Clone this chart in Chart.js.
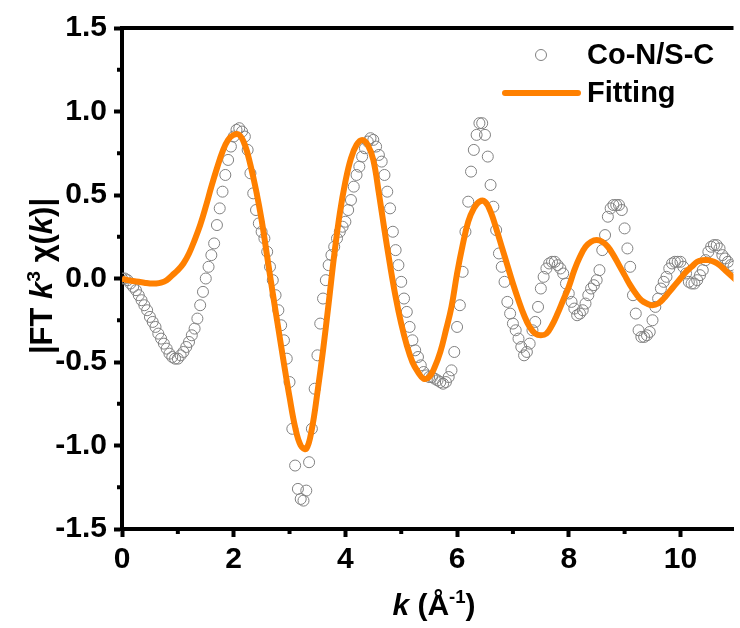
<!DOCTYPE html>
<html>
<head>
<meta charset="utf-8">
<script src="https://cdn.jsdelivr.net/npm/chart.js@4"></script>
<style>
  body { margin: 0; background: #fff; }
  canvas { display: block; }
</style>
</head>
<body>
<canvas id="myChart" width="740" height="628"></canvas>
<script>
// measured k grid (Å^-1) of the experimental points
const dataK = [
  0, 0.05, 0.1, 0.15, 0.2, 0.25, 0.3, 0.35, 0.4, 0.45, 0.5, 0.55, 0.6, 0.65, 0.7, 0.75, 0.8, 0.85, 0.9, 0.95,
  1, 1.05, 1.1, 1.15, 1.2, 1.25, 1.3, 1.35, 1.4, 1.45, 1.5, 1.55, 1.6, 1.65, 1.7, 1.75, 1.8, 1.85, 1.9, 1.95,
  2, 2.05, 2.1, 2.15, 2.2, 2.25, 2.3, 2.35, 2.4, 2.45, 2.5, 2.55, 2.6, 2.65, 2.7, 2.75, 2.8, 2.85, 2.9, 2.95,
  3, 3.05, 3.1, 3.15, 3.2, 3.25, 3.3, 3.35, 3.4, 3.45, 3.5, 3.55, 3.6, 3.65, 3.7, 3.75, 3.8, 3.85, 3.9, 3.95,
  4, 4.05, 4.1, 4.15, 4.2, 4.25, 4.3, 4.35, 4.4, 4.45, 4.5, 4.55, 4.6, 4.65, 4.7, 4.75, 4.8, 4.85, 4.9, 4.95,
  5, 5.05, 5.1, 5.15, 5.2, 5.25, 5.3, 5.35, 5.4, 5.45, 5.5, 5.55, 5.6, 5.65, 5.7, 5.75, 5.8, 5.85, 5.9, 5.95,
  6, 6.05, 6.1, 6.15, 6.2, 6.25, 6.3, 6.35, 6.4, 6.45, 6.5, 6.55, 6.6, 6.65, 6.7, 6.75, 6.8, 6.85, 6.9, 6.95,
  7, 7.05, 7.1, 7.15, 7.2, 7.25, 7.3, 7.35, 7.4, 7.45, 7.5, 7.55, 7.6, 7.65, 7.7, 7.75, 7.8, 7.85, 7.9, 7.95,
  8, 8.05, 8.1, 8.15, 8.2, 8.25, 8.3, 8.35, 8.4, 8.45, 8.5, 8.55, 8.6, 8.65, 8.7, 8.75, 8.8, 8.85, 8.9, 8.95,
  9, 9.05, 9.1, 9.15, 9.2, 9.25, 9.3, 9.35, 9.4, 9.45, 9.5, 9.55, 9.6, 9.65, 9.7, 9.75, 9.8, 9.85, 9.9, 9.95,
  10, 10.05, 10.1, 10.15, 10.2, 10.25, 10.3, 10.35, 10.4, 10.45, 10.5, 10.55, 10.6, 10.65, 10.7, 10.75, 10.8, 10.85, 10.9, 10.95,
  11
];
const dataV = [
  0.00, 0.00, -0.01, -0.03, -0.05, -0.07, -0.10, -0.13, -0.16, -0.19, -0.23, -0.26, -0.29, -0.33, -0.36, -0.39, -0.42, -0.45, -0.47, -0.48,
  -0.48, -0.46, -0.44, -0.41, -0.38, -0.34, -0.30, -0.24, -0.16, -0.08, 0.00, 0.07, 0.14, 0.21, 0.32, 0.42, 0.52, 0.62, 0.71, 0.79,
  0.85, 0.89, 0.90, 0.88, 0.85, 0.77, 0.63, 0.51, 0.41, 0.33, 0.28, 0.24, 0.16, 0.07, -0.01, -0.10, -0.19, -0.28, -0.37, -0.48,
  -0.62, -0.90, -1.12, -1.26, -1.32, -1.33, -1.27, -1.10, -0.90, -0.66, -0.46, -0.27, -0.12, -0.01, 0.08, 0.14, 0.19, 0.24, 0.28, 0.31,
  0.34, 0.41, 0.47, 0.55, 0.62, 0.67, 0.73, 0.78, 0.82, 0.84, 0.83, 0.79, 0.74, 0.70, 0.62, 0.52, 0.42, 0.28, 0.17, 0.08,
  -0.02, -0.12, -0.20, -0.29, -0.37, -0.43, -0.47, -0.52, -0.56, -0.58, -0.59, -0.59, -0.60, -0.61, -0.62, -0.63, -0.62, -0.59, -0.55, -0.44,
  -0.29, -0.16, 0.04, 0.28, 0.46, 0.64, 0.77, 0.86, 0.93, 0.93, 0.86, 0.73, 0.56, 0.43, 0.29, 0.15, 0.07, -0.02, -0.14, -0.21,
  -0.27, -0.31, -0.36, -0.41, -0.46, -0.44, -0.39, -0.31, -0.26, -0.17, -0.06, 0.01, 0.06, 0.09, 0.10, 0.10, 0.08, 0.06, 0.03, -0.03,
  -0.09, -0.14, -0.18, -0.22, -0.21, -0.19, -0.15, -0.10, -0.06, -0.04, -0.01, 0.05, 0.17, 0.26, 0.37, 0.42, 0.44, 0.44, 0.44, 0.41,
  0.30, 0.18, 0.07, -0.10, -0.21, -0.31, -0.35, -0.35, -0.34, -0.32, -0.25, -0.17, -0.12, -0.06, -0.02, 0.01, 0.06, 0.09, 0.10, 0.10,
  0.10, 0.07, 0.03, -0.02, -0.03, -0.03, -0.01, 0.02, 0.05, 0.11, 0.16, 0.19, 0.20, 0.20, 0.18, 0.14, 0.12, 0.10, 0.08, 0.07,
  0.05
];

// fitted curve
const fitK = [
  0, 0.1, 0.2, 0.3, 0.4, 0.5, 0.6, 0.7, 0.8, 0.9,
  1, 1.1, 1.2, 1.3, 1.4, 1.5, 1.6, 1.7, 1.8, 1.9,
  2, 2.1, 2.2, 2.3, 2.4, 2.5, 2.6, 2.7, 2.8, 2.9,
  3, 3.1, 3.2, 3.3, 3.4, 3.5, 3.6, 3.7, 3.8, 3.9,
  4, 4.1, 4.2, 4.3, 4.4, 4.5, 4.6, 4.7, 4.8, 4.9,
  5, 5.1, 5.2, 5.3, 5.4, 5.5, 5.6, 5.7, 5.8, 5.9,
  6, 6.1, 6.2, 6.3, 6.4, 6.5, 6.6, 6.7, 6.8, 6.9,
  7, 7.1, 7.2, 7.3, 7.4, 7.5, 7.6, 7.7, 7.8, 7.9,
  8, 8.1, 8.2, 8.3, 8.4, 8.5, 8.6, 8.7, 8.8, 8.9,
  9, 9.1, 9.2, 9.3, 9.4, 9.5, 9.6, 9.7, 9.8, 9.9,
  10, 10.1, 10.2, 10.3, 10.4, 10.5, 10.6, 10.7, 10.8, 10.9,
  11
];
const fitV = [
  0.00, -0.01, -0.015, -0.02, -0.025, -0.03, -0.03, -0.025, -0.01, 0.02,
  0.05, 0.09, 0.15, 0.23, 0.32, 0.43, 0.55, 0.66, 0.76, 0.83,
  0.86, 0.86, 0.80, 0.68, 0.53, 0.35, 0.13, -0.09, -0.30, -0.51,
  -0.71, -0.89, -1.00, -1.02, -0.90, -0.68, -0.43, -0.15, 0.14, 0.39,
  0.58, 0.72, 0.80, 0.83, 0.80, 0.71, 0.51, 0.29, 0.08, -0.11,
  -0.27, -0.40, -0.50, -0.56, -0.60, -0.59, -0.53, -0.44, -0.31, -0.17,
  0.03, 0.20, 0.34, 0.42, 0.46, 0.46, 0.40, 0.30, 0.19, 0.08,
  -0.03, -0.13, -0.22, -0.29, -0.33, -0.34, -0.33, -0.28, -0.21, -0.13,
  -0.05, 0.05, 0.13, 0.19, 0.22, 0.23, 0.22, 0.19, 0.14, 0.08,
  0.02, -0.04, -0.09, -0.13, -0.15, -0.16, -0.15, -0.12, -0.08, -0.04,
  0.00, 0.04, 0.07, 0.10, 0.11, 0.11, 0.10, 0.08, 0.05, 0.02,
  -0.01
];

const xTicks = [0, 2, 4, 6, 8, 10];
const yTicks = [-1.5, -1.0, -0.5, 0.0, 0.5, 1.0, 1.5];
const xMinor = [1, 3, 5, 7, 9];
const yMinor = [-1.25, -0.75, -0.25, 0.25, 0.75, 1.25];

const FONT = '"Liberation Sans", Arial, sans-serif';
const ORANGE = "#ff8000";
const GREY = "#808080";

// draw a run of text pieces (italic / superscript) centred on x
function drawPieces(c, pieces, x, y, size) {
    let total = 0;
    const parts = pieces.map((p) => {
        const s = p.sup ? size * 0.62 : size;
        c.font = (p.italic ? "italic " : "") + "bold " + s + "px " + FONT;
        const w = c.measureText(p.t).width;
        total += w;
        return { p, s, w };
    });
    let cx = x - total / 2;
    parts.forEach(({ p, s, w }) => {
        c.font = (p.italic ? "italic " : "") + "bold " + s + "px " + FONT;
        c.fillText(p.t, cx, p.sup ? y - size * 0.4 : y);
        cx += w;
    });
}

const decor = {
    id: "decor",
    afterDraw(chart) {
        const c = chart.ctx;
        const a = chart.chartArea;
        const xs = chart.scales.x;
        const ys = chart.scales.y;
        c.save();
        c.fillStyle = "#000";
        c.strokeStyle = "#000";

        // top frame line
        c.lineWidth = 4;
        c.beginPath();
        c.moveTo(a.left - 2, a.top);
        c.lineTo(a.right, a.top);
        c.stroke();

        // minor ticks
        xMinor.forEach((v) => {
            const px = xs.getPixelForValue(v);
            c.beginPath();
            c.moveTo(px, a.bottom);
            c.lineTo(px, a.bottom + 5);
            c.stroke();
        });
        yMinor.forEach((v) => {
            const py = ys.getPixelForValue(v);
            c.beginPath();
            c.moveTo(a.left, py);
            c.lineTo(a.left - 5, py);
            c.stroke();
        });

        // axis titles
        c.textAlign = "left";
        c.textBaseline = "alphabetic";
        drawPieces(c, [
            { t: "k", italic: true },
            { t: " (Å" },
            { t: "-1", sup: true },
            { t: ")" },
        ], 434, 615, 30);

        c.save();
        c.translate(52, 276);
        c.rotate(-Math.PI / 2);
        drawPieces(c, [
            { t: "|FT " },
            { t: "k", italic: true },
            { t: "3", sup: true },
            { t: " χ(" },
            { t: "k", italic: true },
            { t: ")|" },
        ], 0, 0, 31);
        c.restore();

        // legend
        c.lineWidth = 1;
        c.strokeStyle = GREY;
        c.beginPath();
        c.arc(541, 55, 5.5, 0, Math.PI * 2);
        c.stroke();

        c.lineWidth = 6;
        c.lineCap = "round";
        c.strokeStyle = ORANGE;
        c.beginPath();
        c.moveTo(505, 93);
        c.lineTo(578, 93);
        c.stroke();

        c.fillStyle = "#000";
        c.font = "bold 29px " + FONT;
        c.textBaseline = "middle";
        c.fillText("Co-N/S-C", 587, 56);
        c.fillText("Fitting", 587, 94);
        c.restore();
    },
};

const ctx = document.getElementById("myChart");

new Chart(ctx, {
    type: "scatter",
    data: {
        datasets: [
            {
                label: "Fitting",
                data: fitK.map((k, i) => ({ x: k, y: fitV[i] })),
                showLine: true,
                borderColor: ORANGE,
                borderWidth: 6,
                pointRadius: 0,
                tension: 0.4,
            },
            {
                label: "Co-N/S-C",
                data: dataK.map((k, i) => ({ x: k, y: dataV[i] })),
                showLine: false,
                pointRadius: 5.5,
                pointBorderWidth: 1,
                pointBorderColor: GREY,
                pointBackgroundColor: "rgba(255,255,255,0)",
            },
        ],
    },
    options: {
        responsive: false,
        animation: false,
        layout: { padding: { top: 28, right: 0, left: 0, bottom: 0 } },
        plugins: {
            legend: { display: false },
            tooltip: { enabled: false },
        },
        scales: {
            x: {
                type: "linear",
                min: 0,
                max: 10.95,
                afterBuildTicks: (s) => { s.ticks = xTicks.map((v) => ({ value: v })); },
                afterFit: (s) => { s.height = 99; },
                border: { color: "#000", width: 4 },
                grid: { drawOnChartArea: false, tickLength: 8, tickWidth: 4, tickColor: "#000" },
                ticks: {
                    color: "#000",
                    padding: 5,
                    maxRotation: 0,
                    font: { family: FONT, size: 30, weight: "bold" },
                },
            },
            y: {
                type: "linear",
                min: -1.5,
                max: 1.5,
                afterBuildTicks: (s) => { s.ticks = yTicks.map((v) => ({ value: v })); },
                afterFit: (s) => { s.width = 122; },
                border: { color: "#000", width: 4 },
                grid: { drawOnChartArea: false, tickLength: 8, tickWidth: 4, tickColor: "#000" },
                ticks: {
                    color: "#000",
                    padding: 7,
                    font: { family: FONT, size: 30, weight: "bold" },
                    callback: (v) => v.toFixed(1),
                },
            },
        },
    },
    plugins: [decor],
});
</script>
</body>
</html>
